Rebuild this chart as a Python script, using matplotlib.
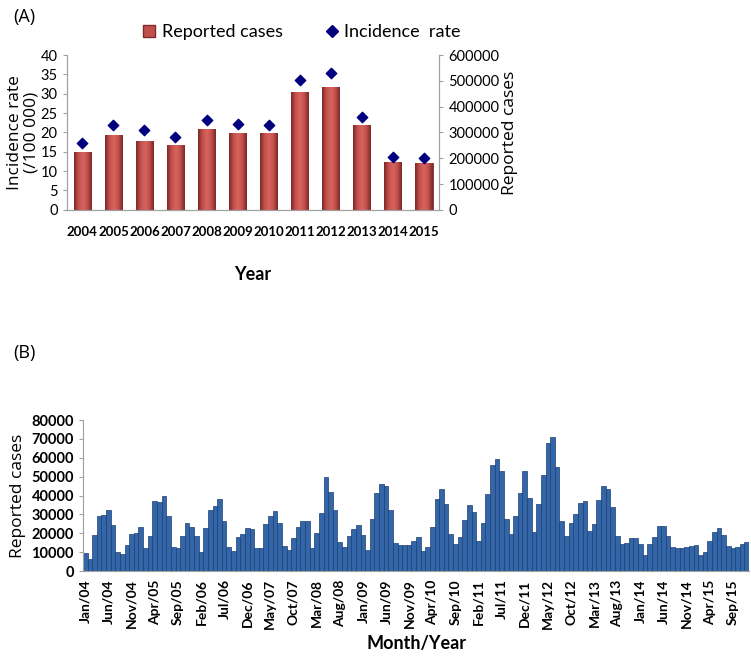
import numpy as np
import matplotlib.pyplot as plt
from matplotlib.colors import LinearSegmentedColormap
from matplotlib.lines import Line2D

plt.rcParams['font.family'] = ['Lato', 'DejaVu Sans']

# (A) yearly data
years = ['2004', '2005', '2006', '2007', '2008', '2009',
         '2010', '2011', '2012', '2013', '2014', '2015']
cases_year = [226000, 290000, 268000, 252000, 312000, 299000,
              299000, 458000, 477000, 329000, 184500, 180600]
rate_year = [17.2, 21.9, 20.6, 18.9, 23.2, 22.2,
             21.9, 33.5, 35.3, 23.9, 13.6, 13.3]

# (B) monthly reported cases, Jan 2004 - Dec 2015
cases_2004 = [9400, 6200, 19100, 29000, 29700, 32500, 24400, 10200, 9000, 13800, 19600, 20000]
cases_2005 = [23100, 12000, 18500, 37000, 36500, 39800, 29200, 12900, 12000, 18500, 25300, 23100]
cases_2006 = [18500, 10000, 23000, 32300, 34500, 38200, 26500, 12900, 10800, 17800, 19600, 22600]
cases_2007 = [22400, 12000, 12000, 24800, 29000, 31900, 25300, 13300, 11000, 17300, 23100, 26500]
cases_2008 = [26500, 12400, 20300, 31000, 49600, 42000, 32500, 15500, 12700, 18600, 22400, 24400]
cases_2009 = [19100, 11100, 27800, 41500, 46300, 45000, 32300, 15000, 13600, 13800, 13800, 16100]
cases_2010 = [17800, 10800, 12600, 23100, 38100, 43500, 35300, 19500, 14300, 18200, 27000, 35200]
cases_2011 = [31100, 16000, 25300, 41000, 56000, 59600, 53200, 27600, 19600, 29200, 41200, 53200]
cases_2012 = [38900, 20500, 35300, 50900, 68000, 71200, 55300, 26500, 18700, 25600, 30000, 35900]
cases_2013 = [37100, 21200, 24700, 37600, 45200, 43500, 34100, 18700, 14300, 14700, 17300, 17300]
cases_2014 = [14100, 8500, 14100, 17800, 24000, 23900, 18700, 12900, 12000, 12000, 12500, 13300]
cases_2015 = [13800, 8500, 10200, 16100, 20500, 23000, 19100, 13300, 12400, 12900, 14300, 15200]
monthly_cases = (cases_2004 + cases_2005 + cases_2006 + cases_2007 + cases_2008 + cases_2009
                 + cases_2010 + cases_2011 + cases_2012 + cases_2013 + cases_2014 + cases_2015)
month_names = ['Jan', 'Feb', 'Mar', 'Apr', 'May', 'Jun',
               'Jul', 'Aug', 'Sep', 'Oct', 'Nov', 'Dec']
month_labels = [m + '/' + y[2:] for y in years for m in month_names]

fig = plt.figure(figsize=(7.51, 6.64), dpi=100)
axis_grey = '#A0A0A0'

# ---------------- panel A ----------------
axA = fig.add_axes([0.089, 0.684, 0.496, 0.233])
axA2 = axA.twinx()
x = np.arange(len(years))
bars = axA2.bar(x, cases_year, width=0.56, color='#C0504D',
                edgecolor='#7E2A28', lw=0.6, zorder=2)
# fake 3D shading, dark sides and a light middle
shade = LinearSegmentedColormap.from_list('shade', ['#7A2826', '#C4504D', '#D8645F', '#C4504D', '#7A2826'])
grad = np.linspace(0, 1, 64).reshape(1, -1)
for b in bars:
    x0, h, w = b.get_x(), b.get_height(), b.get_width()
    im = axA2.imshow(grad, cmap=shade, extent=(x0, x0 + w, 0, h),
                     aspect='auto', zorder=2.1, interpolation='bicubic')
    im.set_clip_path(b)
axA.scatter(x, rate_year, marker='D', s=28, color='#00007F', zorder=3)
axA.set_zorder(axA2.get_zorder() + 1)
axA.patch.set_visible(False)

axA.set_xlim(-0.5, 11.5)
axA.set_ylim(0, 40)
axA2.set_ylim(0, 600000)
axA.set_yticks(np.arange(0, 41, 5))
axA2.set_yticks(np.arange(0, 600001, 100000))
axA.set_xticks(x)
axA.set_xticklabels(years, fontsize=9.5, fontweight='bold')
axA.tick_params(axis='x', length=0, pad=12)
axA.tick_params(axis='y', length=3, color=axis_grey, labelsize=10.5)
axA2.tick_params(axis='y', length=3, color=axis_grey, labelsize=10.5)
for a in (axA, axA2):
    a.spines['top'].set_visible(False)
    for s in ('left', 'right', 'bottom'):
        a.spines[s].set_color(axis_grey)
axA.set_ylabel('Incidence rate\n(/100 000)', fontsize=12.5, family='Open Sans',
               linespacing=1.0, labelpad=1)
axA2.set_ylabel('Reported cases', fontsize=12.5, family='Open Sans', labelpad=2)
axA.set_xlabel('Year', fontsize=13, fontweight='bold', labelpad=20)

handles = [Line2D([], [], marker='s', ls='none', color='#C0504D', markeredgecolor='#7E2A28', markersize=9),
           Line2D([], [], marker='D', ls='none', color='#00007F', markersize=6)]
fig.legend(handles, ['Reported cases', 'Incidence  rate'], loc='center',
           bbox_to_anchor=(0.40, 0.952), ncol=2, frameon=False, fontsize=13,
           handletextpad=0.2, columnspacing=2.2, handlelength=1.0)

fig.text(0.018, 0.975, '(A)', fontsize=13, family='Open Sans', va='center')

# ---------------- panel B ----------------
axB = fig.add_axes([0.1105, 0.140, 0.887, 0.2274])
months = np.arange(len(monthly_cases))
axB.bar(months, monthly_cases, width=1.0, color='#3366A8',
        edgecolor='#1D3E70', lw=0.5)
axB.set_xlim(-0.5, len(monthly_cases) - 0.5)
axB.set_ylim(0, 80000)
axB.set_yticks(np.arange(0, 80001, 10000))
axB.set_xticks(months[::5])
axB.set_xticklabels(month_labels[::5], rotation=90, fontsize=10, fontweight='bold')
axB.tick_params(axis='x', length=0, pad=6)
axB.tick_params(axis='y', length=3, color=axis_grey, labelsize=10.5)
for lab in axB.get_yticklabels():
    lab.set_fontweight('bold')
for s in ('top', 'right'):
    axB.spines[s].set_visible(False)
for s in ('left', 'bottom'):
    axB.spines[s].set_color(axis_grey)
axB.set_ylabel('Reported cases', fontsize=12.5, family='Open Sans', labelpad=4)
axB.set_xlabel('Month/Year', fontsize=13, fontweight='bold', labelpad=4)

fig.text(0.018, 0.468, '(B)', fontsize=13, family='Open Sans', va='center')

fig.savefig('out.png', dpi=100)
